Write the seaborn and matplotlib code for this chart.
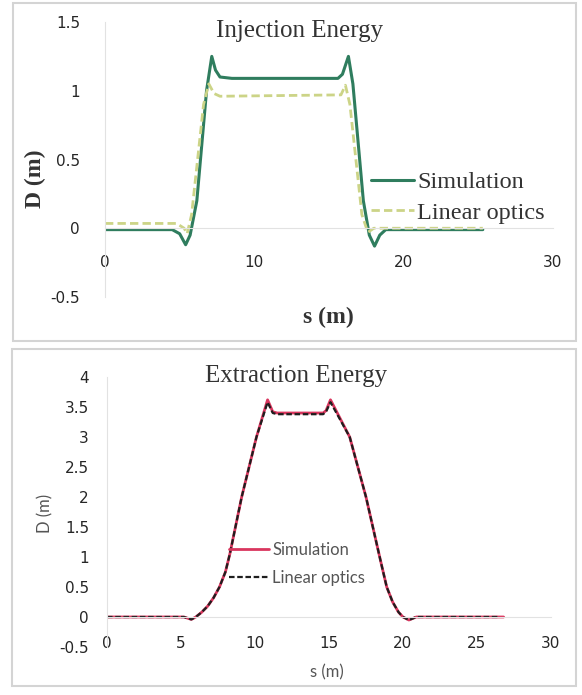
import numpy as np
import pandas as pd
import seaborn as sns
import matplotlib.pyplot as plt
from matplotlib.patches import Rectangle

# ---- Injection energy dispersion ----
inj_sim_s = [0, 4.5, 5.0, 5.4, 5.7, 6.15, 6.8, 7.15, 7.4, 7.7, 8.5, 15.6, 15.9, 16.3,
             16.6, 17.3, 17.7, 18.05, 18.4, 18.8, 25.3]
inj_sim_D = [-0.01, -0.01, -0.04, -0.12, -0.05, 0.2, 1.0, 1.25, 1.15, 1.10, 1.09, 1.09, 1.12, 1.25,
             1.05, 0.2, -0.05, -0.13, -0.05, -0.01, -0.01]
inj_lin_s = [0, 4.8, 5.3, 5.5, 5.8, 6.6, 6.95, 7.3, 7.7, 15.8, 16.1, 16.4, 17.2, 17.6, 18.0, 25.3]
inj_lin_D = [0.035, 0.035, 0.0, -0.04, 0.1, 0.9, 1.05, 0.98, 0.96, 0.97, 1.04, 0.9, 0.1, -0.03, 0.0, 0.0]

# ---- Extraction energy dispersion ----
ext_sim_s = [0, 5.2, 5.7, 6.0, 6.4, 6.8, 7.2, 7.6, 8.0, 8.3, 9.1, 10.1, 10.85, 11.2, 11.5, 14.6,
             14.8, 15.1, 16.4, 17.5, 18.1, 18.5, 18.9, 19.3, 19.7, 20.0, 20.4, 20.9, 26.8]
ext_sim_D = [0, 0, -0.04, 0.0, 0.08, 0.18, 0.32, 0.5, 0.75, 1.05, 2.0, 3.0, 3.62, 3.42, 3.4, 3.4,
             3.44, 3.62, 3.0, 2.0, 1.35, 0.92, 0.5, 0.25, 0.08, 0.0, -0.05, 0.0, 0.0]
ext_lin_s = [0, 5.2, 5.7, 6.0, 6.4, 6.8, 7.2, 7.6, 8.0, 8.3, 9.1, 10.1, 10.85, 11.2, 11.5, 14.6,
             14.8, 15.1, 16.4, 17.5, 18.1, 18.5, 18.9, 19.3, 19.7, 20.0, 20.4, 20.9, 26.5]
ext_lin_D = [0, 0, -0.04, 0.0, 0.08, 0.18, 0.32, 0.5, 0.75, 1.05, 2.0, 3.0, 3.58, 3.40, 3.38, 3.38,
             3.42, 3.58, 3.0, 2.0, 1.35, 0.92, 0.5, 0.25, 0.08, 0.0, -0.05, 0.0, 0.0]

inj_xticks = [0, 10, 20, 30]
inj_yticks = [-0.5, 0, 0.5, 1, 1.5]
ext_xticks = [0, 5, 10, 15, 20, 25, 30]
ext_yticks = [-0.5, 0, 0.5, 1, 1.5, 2, 2.5, 3, 3.5, 4]

sns.set_theme(style="white")
SERIF = ["Liberation Serif", "DejaVu Serif"]
SANS = ["Lato", "DejaVu Sans"]

W, H = 582, 695
fig = plt.figure(figsize=(W / 100, H / 100), dpi=100)
fig.patch.set_facecolor("white")


def frac(x0, y0, x1, y1):
    """pixel box (top-left origin) -> figure fraction rect"""
    return [x0 / W, 1 - y1 / H, (x1 - x0) / W, (y1 - y0) / H]


# panel frames
for (x0, y0, x1, y1) in [(13, 3, 576, 341), (12, 349, 576, 686)]:
    fig.add_artist(Rectangle((x0 / W, 1 - y1 / H), (x1 - x0) / W, (y1 - y0) / H,
                             transform=fig.transFigure, fill=False,
                             edgecolor="#d4d4d4", linewidth=1.5))


def style_axes(ax, xticks, yticks, xlim, ylim, font, size, color, xpad, ypad):
    ax.set_xlim(*xlim)
    ax.set_ylim(*ylim)
    ax.set_xticks(xticks)
    ax.set_yticks(yticks)
    ax.set_xticklabels([f"{t:g}" for t in xticks], family=font, size=size, color=color)
    ax.set_yticklabels([f"{t:g}" for t in yticks], family=font, size=size, color=color)
    for side in ["top", "right"]:
        ax.spines[side].set_visible(False)
    ax.spines["bottom"].set_position(("data", 0))
    ax.spines["left"].set_position(("data", 0))
    for side in ["bottom", "left"]:
        ax.spines[side].set_color("#e2e2e2")
        ax.spines[side].set_linewidth(0.8)
    ax.tick_params(axis="x", length=0, pad=xpad)
    ax.tick_params(axis="y", length=0, pad=ypad)
    ax.set_xlabel("")
    ax.set_ylabel("")
    ax.set_facecolor("none")


# ---- top panel ----
ax1 = fig.add_axes(frac(105, 22, 553, 297))
inj_sim = pd.DataFrame({"s": inj_sim_s, "D": inj_sim_D})
inj_lin = pd.DataFrame({"s": inj_lin_s, "D": inj_lin_D})
sns.lineplot(data=inj_sim, x="s", y="D", ax=ax1, color="#2f7d5e", linewidth=2.2,
             label="Simulation", estimator=None, sort=False)
sns.lineplot(data=inj_lin, x="s", y="D", ax=ax1, color="#ccd487", linewidth=2.0,
             linestyle=(0, (3, 1.5)), label="Linear optics", estimator=None, sort=False)
style_axes(ax1, inj_xticks, inj_yticks, (0, 30), (-0.5, 1.5), SERIF, 17.5, "#333333", 19, 18)
ax1.legend(loc="upper left", bbox_to_anchor=(371 / W, 1 - 171 / H),
           bbox_transform=fig.transFigure, frameon=False, borderpad=0, borderaxespad=0,
           handlelength=1.75, handletextpad=0.15, labelspacing=0.35,
           prop={"family": SERIF, "size": 17.5}, labelcolor="#333333")

fig.text(300 / W, 1 - 31 / H, "Injection Energy", family=SERIF, size=18,
         color="#333333", ha="center", va="center")
fig.text(35 / W, 1 - 179 / H, "D (m)", family=SERIF, size=17, weight="bold",
         color="#333333", ha="center", va="center", rotation=90)
fig.text(328 / W, 1 - 317 / H, "s (m)", family=SERIF, size=17, weight="bold",
         color="#333333", ha="center", va="center")

# ---- bottom panel ----
ax2 = fig.add_axes(frac(107, 377, 551, 647))
ext_sim = pd.DataFrame({"s": ext_sim_s, "D": ext_sim_D})
ext_lin = pd.DataFrame({"s": ext_lin_s, "D": ext_lin_D})
sns.lineplot(data=ext_sim, x="s", y="D", ax=ax2, color="#d9365e", linewidth=2.0,
             label="Simulation", estimator=None, sort=False)
sns.lineplot(data=ext_lin, x="s", y="D", ax=ax2, color="#1e1e1e", linewidth=1.6,
             linestyle=(0, (2.5, 1.2)), label="Linear optics", estimator=None, sort=False)
style_axes(ax2, ext_xticks, ext_yticks, (0, 30), (-0.5, 4), SANS, 11.5, "#555555", 14, 13)
ax2.legend(loc="upper left", bbox_to_anchor=(229 / W, 1 - 542 / H),
           bbox_transform=fig.transFigure, frameon=False, borderpad=0, borderaxespad=0,
           handlelength=2.4, handletextpad=0.2, labelspacing=0.7,
           prop={"family": SANS, "size": 12}, labelcolor="#555555")

fig.text(296 / W, 1 - 376 / H, "Extraction Energy", family=SERIF, size=18,
         color="#333333", ha="center", va="center")
fig.text(45 / W, 1 - 513 / H, "D (m)", family=SANS, size=12,
         color="#555555", ha="center", va="center", rotation=90)
fig.text(327 / W, 1 - 672 / H, "s (m)", family=SANS, size=12,
         color="#555555", ha="center", va="center")

fig.savefig("out.png", dpi=100, facecolor="white")
